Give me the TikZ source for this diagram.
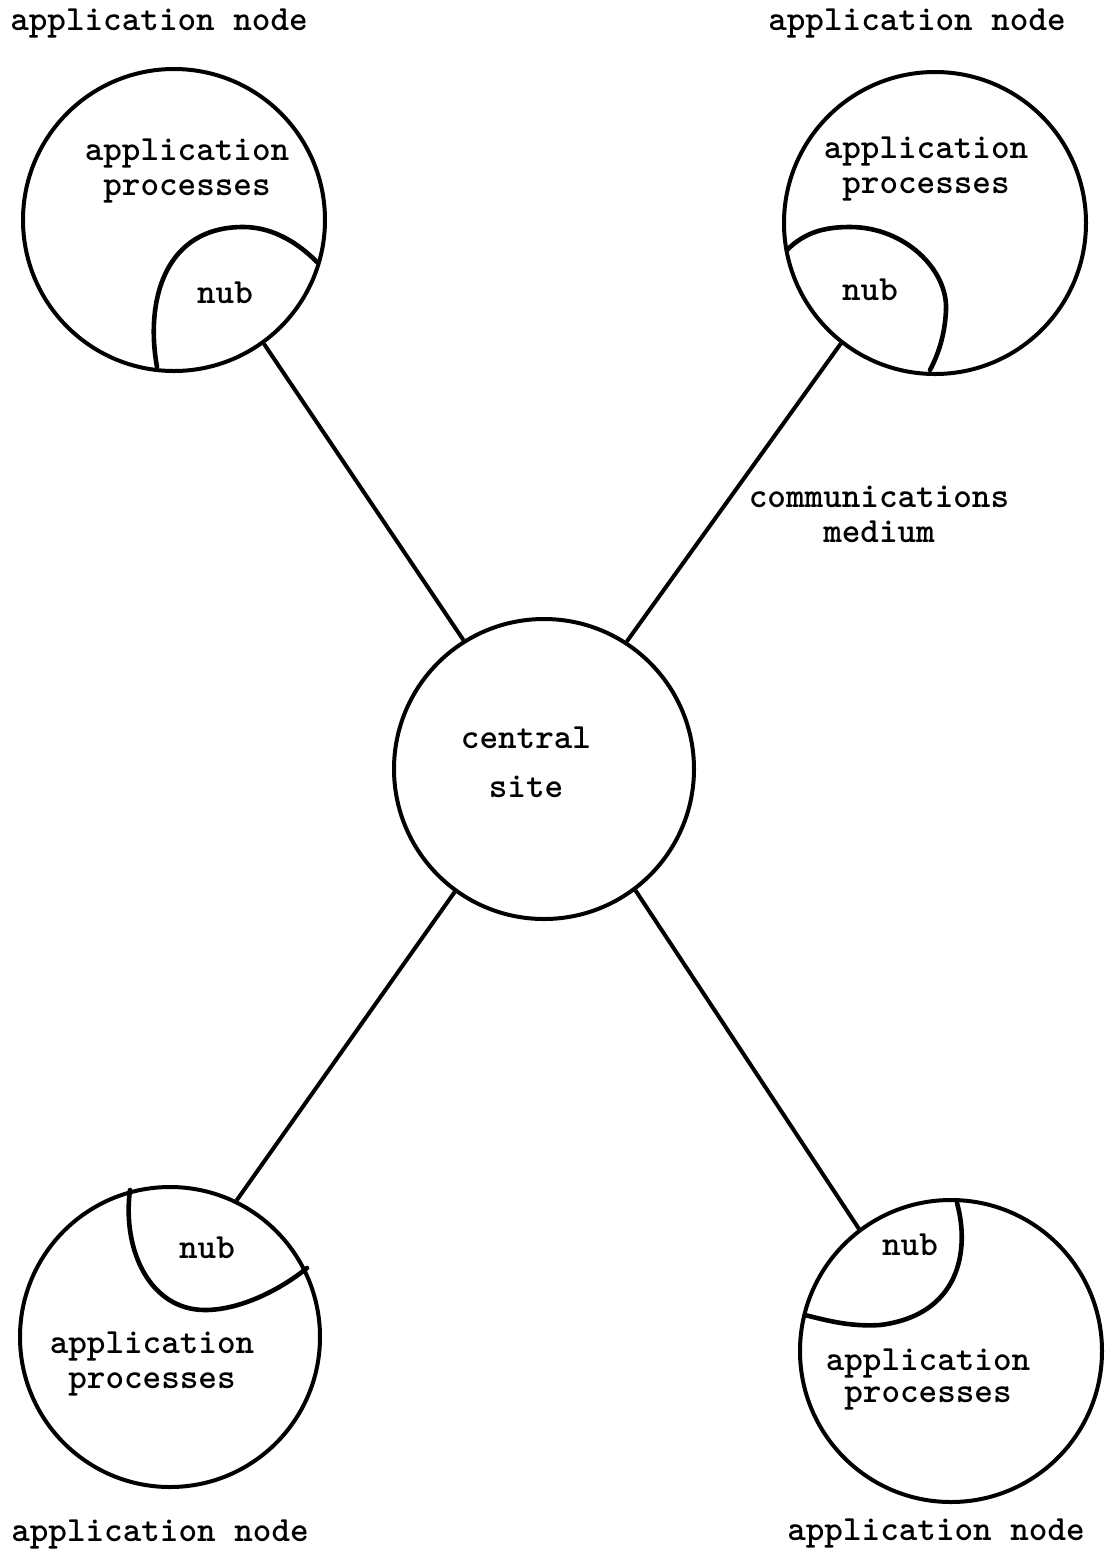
\documentclass[tikz,border=0pt]{standalone}
\begin{document}
\begin{tikzpicture}[x=0.5pt,y=-0.5pt,
  site/.style={circle,draw,line width=2pt,inner sep=0pt,minimum size=#1},
  lbl/.style={font=\ttfamily\bfseries\fontsize{17.7}{#1}\selectfont,inner sep=0pt,anchor=base,align=center},
  lbl/.default=17.5pt,
  link/.style={line width=2pt},
  nubline/.style={line width=2.3pt,line cap=round}
]
\useasboundingbox (0,0) rectangle (1107,1554);
\fill[white] (0,0) rectangle (1107,1554);

% circles
\node[site=151pt] (tl) at (174,220) {};
\node[site=151pt] (tr) at (935,223) {};
\node[site=150pt] (c)  at (544,769) {};
\node[site=150pt] (bl) at (170,1337) {};
\node[site=151pt] (br) at (951,1351) {};

% nubs
\draw[nubline] (157,367) .. controls (145,300) and (165,227) .. (243,227)
               .. controls (275,227) and (300,245) .. (317,262);
\draw[nubline] (787,250) .. controls (805,232) and (825,227) .. (850,227)
               .. controls (905,227) and (948,270) .. (946,310)
               .. controls (945,335) and (938,355) .. (930,370);
\draw[nubline] (130,1190) .. controls (122,1250) and (150,1310) .. (205,1310)
               .. controls (240,1310) and (280,1290) .. (307,1268);
\draw[nubline] (957,1203) .. controls (970,1250) and (960,1315) .. (880,1325)
               .. controls (850,1327) and (825,1320) .. (805,1315);

% communications medium
\draw[link] (tl.306.7) -- (c.122.7);
\draw[link] (tr.232) -- (c.57.3);
\draw[link] (bl.64) -- (c.234);
\draw[link] (br.127) -- (c.307.2);

% titles
\node[lbl] (tlt) at (159,30) {application node};
\node[lbl] (trt) at (917,30) {application node};
\node[lbl] (blt) at (160,1541) {application node};
\node[lbl] (brt) at (936,1540) {application node};

% inner labels (base = last line)
\node[lbl] (tlp) at (187,195) {application\\processes};
\node[lbl] (trp) at (926,193) {application\\processes};
\node[lbl] (tln) at (225,303) {nub};
\node[lbl] (trn) at (870,300) {nub};
\node[lbl=24.5pt] (cs) at (526,797) {central\\site};
\node[lbl] (bln) at (207,1258) {nub};
\node[lbl] (blp) at (152,1388) {application\\processes};
\node[lbl] (brn) at (910,1255) {nub};
\node[lbl=16pt] (brp) at (928,1402) {application\\processes};
\node[lbl] (cm) at (879,542) {communications\\medium};
\end{tikzpicture}
\end{document}
